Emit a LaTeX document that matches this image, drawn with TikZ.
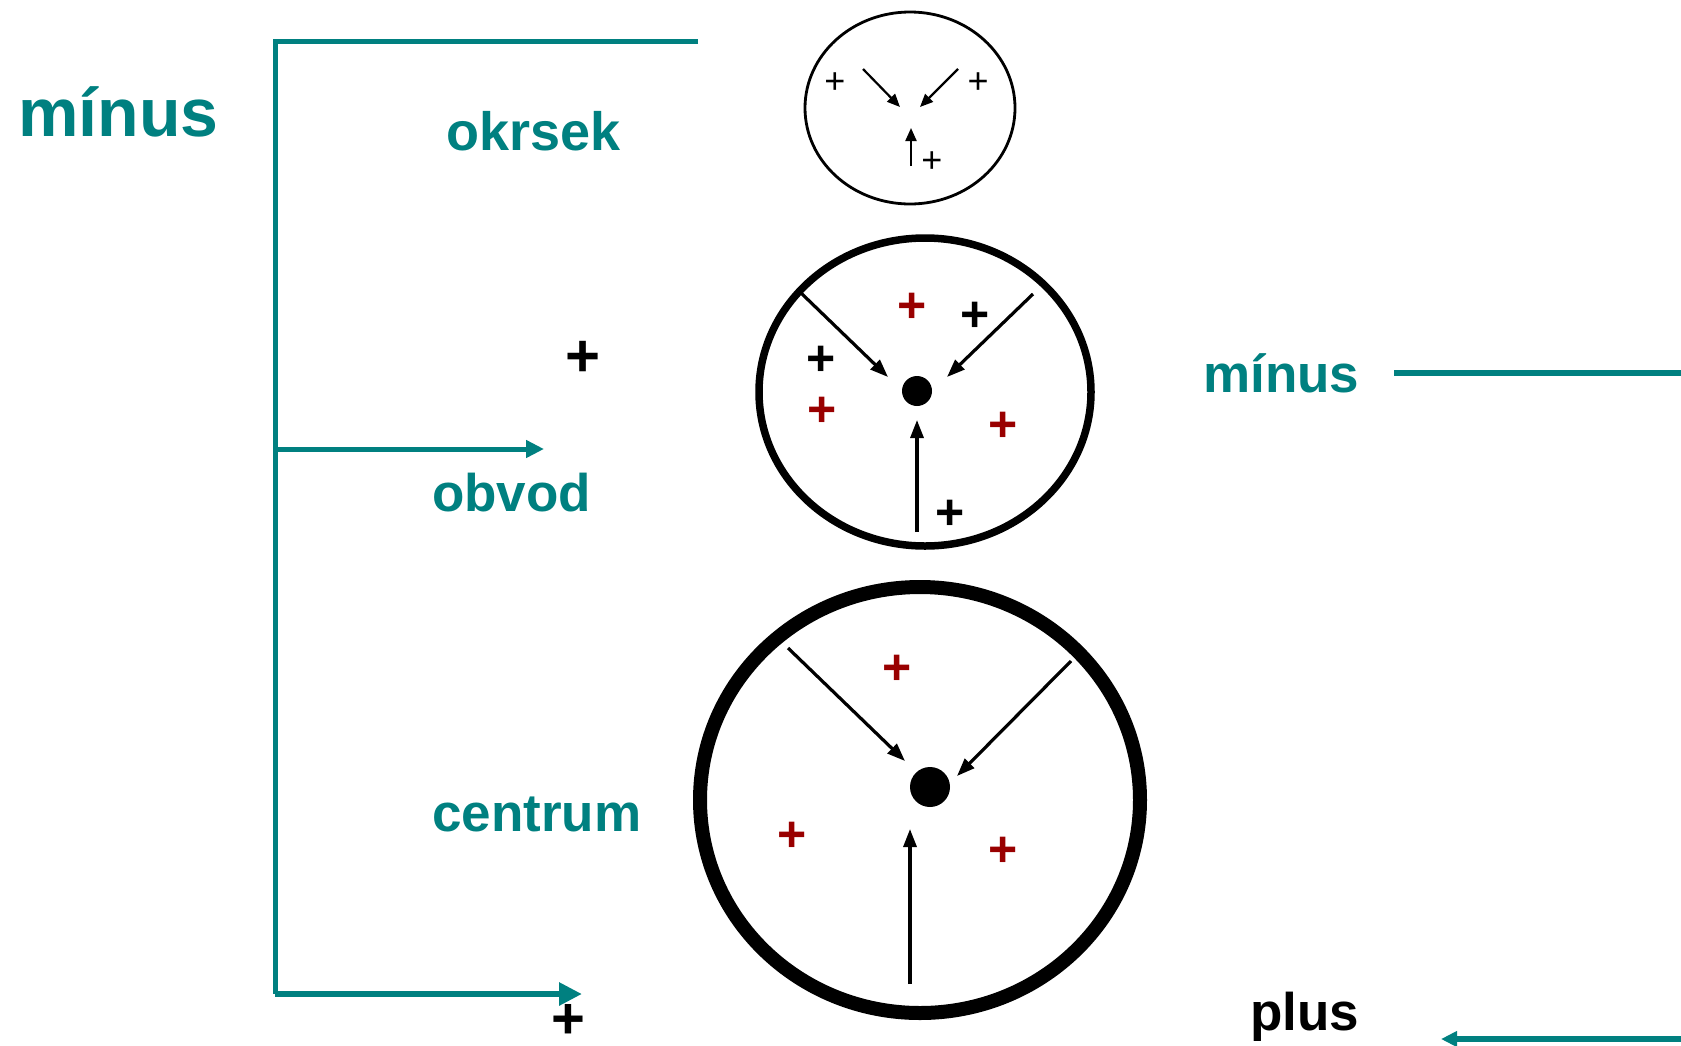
\documentclass[tikz,border=0pt]{standalone}
\usepackage{fontspec}
\setmainfont{Liberation Sans}
\usetikzlibrary{arrows.meta}
\definecolor{tealc}{RGB}{0,128,128}
\definecolor{plusred}{RGB}{153,0,0}

\begin{document}
\begin{tikzpicture}[x=1pt,y=-1pt,
   word/.style={font=\bfseries\fontsize{53}{53}\selectfont,text=tealc,inner sep=0,anchor=base west},
   branch/.style={draw=tealc,line width=5pt},
   tealtip/.style={-{Triangle[length=18pt,width=17pt]}},
   pull/.style={-{Triangle[length=18pt,width=13pt]},line width=3.2pt},
   smallpull/.style={-{Triangle[length=13pt,width=11pt]},line width=2.2pt},
   charge/.style={font=\bfseries\fontsize{50}{50}\selectfont,inner sep=0},
   smallcharge/.style={font=\fontsize{36}{36}\selectfont,inner sep=0}]

\useasboundingbox (0,0) rectangle (1681,1045);

% teal bracket on the left
\coordinate (top) at (275,41);
\coordinate (topend) at (698,41);
\coordinate (mid) at (275,449);
\coordinate (midend) at (544,449);
\coordinate (bot) at (275,994);
\coordinate (botend) at (582,994);
\draw[branch] (topend) -- (top) -- (bot);
\draw[branch,tealtip] (mid) -- (midend);
\draw[branch,line width=6pt,-{Triangle[length=23pt,width=22pt]}] (bot) -- (botend);

\node[word,font=\bfseries\fontsize{68}{68}\selectfont] (minustop) at (18,136) {mínus};
\node[word,font=\bfseries\fontsize{54}{54}\selectfont] (okrsek) at (446,150) {okrsek};
\node[word] (obvod) at (432,511) {obvod};
\node[word] (centrum) at (432,831) {centrum};
\node[word] (minusright) at (1203,392) {mínus};
\node[word,text=black] (plus) at (1250,1030) {plus};
\node[charge,font=\bfseries\fontsize{60}{60}\selectfont] (plusleft) at (583,359) {+};
\node[charge,font=\bfseries\fontsize{58}{58}\selectfont] (plusbot) at (568,1021) {+};

% teal lines on the right
\coordinate (rightstart) at (1394,373);
\coordinate (rightend) at (1681,373);
\coordinate (backstart) at (1681,1039);
\coordinate (backend) at (1441,1039);
\draw[branch,line width=5.5pt] (rightstart) -- (rightend);
\draw[branch,line width=6.5pt,-{Triangle[length=16pt,width=15pt]}] (backstart) -- (backend);

% okrsek
\draw[line width=2.8pt] (910,108) ellipse [x radius=105pt, y radius=96pt];
\draw[smallpull] (863,69) -- (900,107);
\draw[smallpull] (958,69) -- (920,107);
\draw[smallpull] (911,166) -- (911,128);
\node[smallcharge] at (835,83) {+};
\node[smallcharge] at (978,83) {+};
\node[smallcharge] at (932,162) {+};

% obvod
\draw[line width=7.5pt] (925,392) ellipse [x radius=166pt, y radius=154pt];
\node[circle,fill,minimum size=30pt,inner sep=0] (core) at (917,391) {};
\draw[pull] (801,293) -- (888,377);
\draw[pull] (1033,294) -- (947,377);
\draw[pull] (917,532) -- (917,420);
\node[charge] at (821,361) {+};
\node[charge] at (975,317) {+};
\node[charge] at (950,515) {+};
\node[charge,text=plusred] at (912,308) {+};
\node[charge,text=plusred] at (822,412) {+};
\node[charge,text=plusred] at (1003,427) {+};

% centrum
\draw[line width=14pt] (920,800) ellipse [x radius=220pt, y radius=213pt];
\node[circle,fill,minimum size=40pt,inner sep=0] (bigcore) at (930,787) {};
\draw[pull] (788,648) -- (905,761);
\draw[pull] (1071,661) -- (957,776);
\draw[pull] (910,984) -- (910,829);
\node[charge,text=plusred] at (897,670) {+};
\node[charge,text=plusred] at (792,837) {+};
\node[charge,text=plusred] at (1003,852) {+};

\end{tikzpicture}
\end{document}
